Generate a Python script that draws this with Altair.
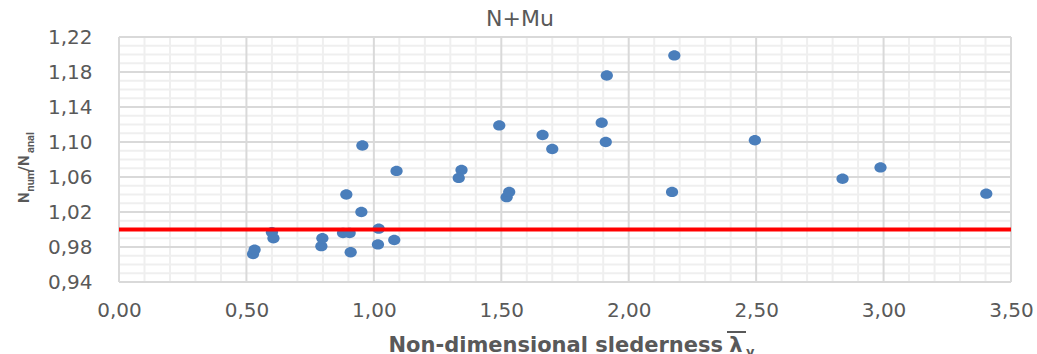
import altair as alt
import pandas as pd

# Data (slenderness vs N_num/N_anal)
lam = [0.526, 0.532, 0.600, 0.606, 0.794, 0.798, 0.892, 0.879, 0.905, 0.909,
       0.955, 0.951, 1.019, 1.016, 1.080, 1.089, 1.344, 1.333, 1.492, 1.521,
       1.531, 1.662, 1.700, 1.894, 1.914, 1.910, 2.179, 2.170, 2.495, 2.839,
       2.988, 3.403]
ratio = [0.972, 0.977, 0.997, 0.990, 0.981, 0.990, 1.040, 0.996, 0.996, 0.974,
         1.096, 1.020, 1.001, 0.983, 0.988, 1.067, 1.068, 1.059, 1.119, 1.037,
         1.043, 1.108, 1.092, 1.122, 1.176, 1.100, 1.199, 1.043, 1.102, 1.058,
         1.071, 1.041]
ref_level = [1.0]

x_major = [0.0, 0.5, 1.0, 1.5, 2.0, 2.5, 3.0, 3.5]
x_minor = [round(i * 0.1, 2) for i in range(36) if i % 5 != 0]
y_major = [0.94, 0.98, 1.02, 1.06, 1.10, 1.14, 1.18, 1.22]
y_minor = [round(0.94 + i * 0.01, 2) for i in range(29) if i % 4 != 0]

W, H = 892, 245
GRAY = "#595959"
FONT = "DejaVu Sans"

xs = alt.Scale(domain=[0, 3.5], nice=False, zero=False)
ys = alt.Scale(domain=[0.94, 1.22], nice=False, zero=False)

label_expr = "replace(format(datum.value, '.2f'), '.', ',')"
xaxis = alt.Axis(
    values=x_major, labelExpr=label_expr, grid=False, ticks=False, domain=False,
    title=None, labelFont=FONT, labelFontSize=20, labelColor=GRAY, labelPadding=18,
    labelFlush=False, labelOverlap=False)
yaxis = alt.Axis(
    values=y_major, labelExpr=label_expr, grid=False, ticks=False, domain=False,
    title=None, labelFont=FONT, labelFontSize=20, labelColor=GRAY, labelPadding=27,
    labelFlush=False, labelOverlap=False)

pts = pd.DataFrame({"lam": lam, "ratio": ratio})

xminor = alt.Chart(pd.DataFrame({"v": x_minor})).mark_rule(color="#efefef", strokeWidth=2).encode(
    x=alt.X("v:Q", scale=xs, axis=xaxis), y=alt.value(0), y2=alt.value(H))
yminor = alt.Chart(pd.DataFrame({"v": y_minor})).mark_rule(color="#efefef", strokeWidth=2).encode(
    y=alt.Y("v:Q", scale=ys, axis=yaxis), x=alt.value(0), x2=alt.value(W))
xmajor = alt.Chart(pd.DataFrame({"v": x_major})).mark_rule(color="#d9d9d9", strokeWidth=2).encode(
    x=alt.X("v:Q", scale=xs, axis=xaxis), y=alt.value(0), y2=alt.value(H))
ymajor = alt.Chart(pd.DataFrame({"v": y_major})).mark_rule(color="#d9d9d9", strokeWidth=2).encode(
    y=alt.Y("v:Q", scale=ys, axis=yaxis), x=alt.value(0), x2=alt.value(W))

points = alt.Chart(pts).mark_point(
    shape="M-1,0A1,0.85,0,1,0,1,0A1,0.85,0,1,0,-1,0Z",
    filled=True, opacity=1, color="#4a7ebb", size=150, strokeWidth=0
).encode(
    x=alt.X("lam:Q", scale=xs, axis=xaxis),
    y=alt.Y("ratio:Q", scale=ys, axis=yaxis),
)

redline = alt.Chart(pd.DataFrame({"v": ref_level})).mark_rule(color="#ff0000", strokeWidth=3.8).encode(
    y=alt.Y("v:Q", scale=ys, axis=yaxis), x=alt.value(0), x2=alt.value(W))

def txt(s, x, y, size, bold=False, align="left", angle=0, font=FONT):
    return alt.Chart(pd.DataFrame({"t": [s]})).mark_text(
        align=align, baseline="alphabetic", fontSize=size, font=font,
        fontWeight="bold" if bold else "normal", color=GRAY, angle=angle
    ).encode(text="t:N", x=alt.value(x), y=alt.value(y))

title = txt("N+Mu", 401, -11, 22, align="center")
xt1 = txt("Non-dimensional slederness", 604, 315, 21, bold=True, align="right")
xt2 = txt("λ", 617, 315, 21, bold=True, align="center")
xbar = alt.Chart(pd.DataFrame({"t": ["bar"]})).mark_rule(color=GRAY, strokeWidth=2).encode(
    x=alt.value(608), x2=alt.value(627), y=alt.value(295))
xt3 = txt("y", 627, 318.5, 13, bold=True)

yt1 = txt("N", -90, 166, 15, bold=True, angle=270, font="Roboto")
yt2 = txt("num", -85, 154.5, 11, bold=True, angle=270, font="Roboto")
yt3 = txt("/N", -90, 134.5, 15, bold=True, angle=270, font="Roboto")
yt4 = txt("anal", -85, 116, 11, bold=True, angle=270, font="Roboto")

chart = alt.layer(
    xminor, yminor, xmajor, ymajor, points, redline,
    title, xt1, xt2, xbar, xt3, yt1, yt2, yt3, yt4
).properties(
    width=W, height=H,
    autosize=alt.AutoSizeParams(type="none"),
    padding={"left": 119, "top": 37, "right": 26, "bottom": 72},
    background="white",
).configure_view(stroke=None)

chart.save("out.html", embed_options={"renderer": "svg", "actions": False})
